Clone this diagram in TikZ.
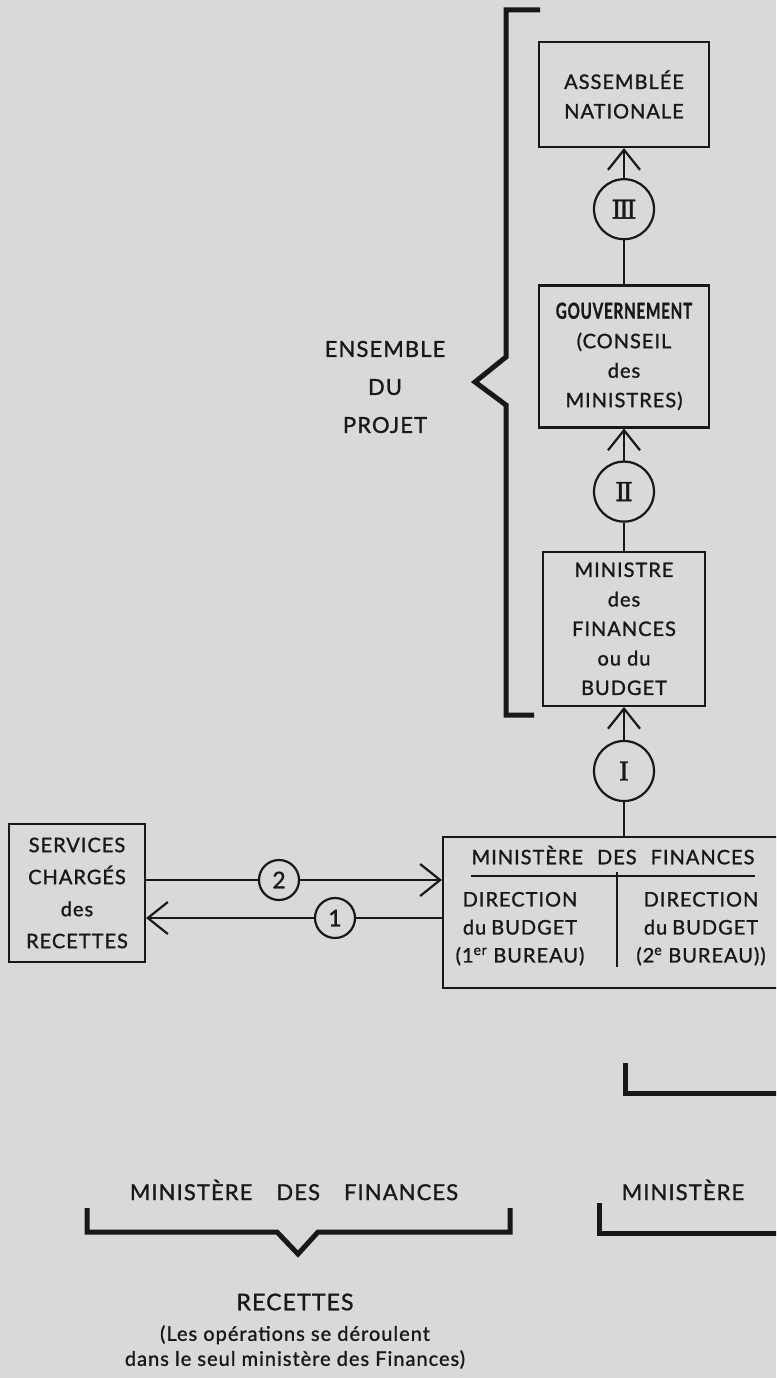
\documentclass[tikz,border=0pt]{standalone}
\usepackage{graphicx}
\usepackage{fontspec}
\setmainfont{Lato}[LetterSpace=5.0, FakeBold=1.2]
\newfontfamily\romfont{DejaVu Serif}[FakeBold=1.5]
\usetikzlibrary{arrows.meta, positioning}
\definecolor{paper}{RGB}{216,218,217}
\definecolor{ink}{RGB}{24,24,24}

\begin{document}
\begin{tikzpicture}[
    x=1pt, y=-1pt,
    every node/.style={text=ink},
    box/.style={
        draw=ink,
        rectangle,
        line width=2.2pt,
        fill=paper,
        align=center,
        inner sep=3pt,
        font=\fontsize{20}{29.5}\selectfont
    },
    stage/.style={
        draw=ink,
        circle,
        line width=2.2pt,
        fill=paper,
        minimum size=60pt,
        inner sep=0pt,
        font=\romfont\fontsize{26}{26}\selectfont
    },
    order/.style={
        draw=ink,
        circle,
        line width=2.2pt,
        fill=paper,
        minimum size=40pt,
        inner sep=0pt,
        font=\fontsize{23}{23}\selectfont
    },
    caption/.style={
        align=center,
        inner sep=0pt,
        font=\fontsize{22}{38}\selectfont
    },
    inbox/.style={
        align=center,
        inner sep=0pt,
        font=\fontsize{20}{28}\selectfont
    },
    flow/.style={
        draw=ink,
        line width=2.2pt,
        -{Straight Barb[length=20pt,width=32pt]}
    },
    link/.style={draw=ink, line width=2.2pt},
    brace/.style={draw=ink, line width=5pt, line join=miter}
]

\useasboundingbox (0,0) rectangle (776,1378);
\clip (0,0) rectangle (776,1378);
\fill[paper] (0,0) rectangle (776,1378);

% Vertical chain
\node[box, minimum width=170pt, minimum height=105pt] (assemblee) at (624,94.5) {ASSEMBLÉE\\NATIONALE};
\node[stage, below=30pt of assemblee] (stageIII) {Ⅲ};
\node[box, minimum width=170pt, minimum height=142pt, below=44pt of stageIII] (gouvernement)
    {\scalebox{0.76}[1.1]{\bfseries GOUVERNEMENT}\\(CONSEIL\\des\\MINISTRES)};
\node[stage, below=32pt of gouvernement] (stageII) {Ⅱ};
\node[box, minimum width=162pt, minimum height=154pt, below=28pt of stageII] (ministre)
    {MINISTRE\\des\\FINANCES\\ou du\\BUDGET};
\node[stage, below=33pt of ministre] (stageI) {Ⅰ};
\node[box, minimum width=362pt, minimum height=151pt, below=34pt of stageI] (finances) {};

% Inside the ministry box
\node[inbox] (finhead) at ([xshift=-11pt, yshift=-19pt]finances.north)
    {MINISTÈRE\hspace{14pt}DES\hspace{14pt}FINANCES};
\node[inbox] (bureauun) at ([xshift=-104pt, yshift=-16pt]finances.center)
    {DIRECTION\\du\hspace{5pt}BUDGET\\(1\textsuperscript{er} BUREAU)};
\node[inbox] (bureaudeux) at ([xshift=77pt, yshift=-16pt]finances.center)
    {DIRECTION\\du\hspace{5pt}BUDGET\\(2\textsuperscript{e} BUREAU))};
\draw[link] ([yshift=-21pt]finhead.west) -- ([yshift=-21pt]finhead.east);
\draw[link] (617,872) -- (617,967);

% Services on the left
\node[box, minimum width=136pt, minimum height=138pt, font=\fontsize{20}{32}\selectfont] (services) at (77,893)
    {SERVICES\\CHARGÉS\\des\\RECETTES};
\node[order] (ordre2) at (279,880) {2};
\node[order] (ordre1) at (335,918) {1};

% Connections
\draw[flow] (stageIII) -- (assemblee);
\draw[link] (gouvernement) -- (stageIII);
\draw[flow] (stageII) -- (gouvernement);
\draw[link] (ministre) -- (stageII);
\draw[flow] (stageI) -- (ministre);
\draw[link] (finances) -- (stageI);
\draw[link] (services.east |- ordre2) -- (ordre2);
\draw[flow] (ordre2) -- (ordre2 -| finances.west);
\draw[flow] (ordre1) -- (ordre1 -| services.east);
\draw[link] (ordre1) -- (ordre1 -| finances.west);

% Brace of the whole project
\draw[brace] (540,10) -- (506,10) -- (506,357) -- (475,382) -- (506,405) -- (506,715) -- (534,715);
\node[caption] (ensemble) at (385,387) {ENSEMBLE\\DU\\PROJET};

% Bottom captions
\draw[brace] (625,1063) -- (625,1093) -- (790,1093);
\node[caption] (minfin) at (294,1190) {MINISTÈRE\hspace{24pt}DES\hspace{24pt}FINANCES};
\node[caption] (minautre) at (683,1190) {MINISTÈRE};
\draw[brace] (87,1208) -- (87,1232) -- (277,1232) -- (298,1254) -- (318,1232) -- (510,1232) -- (510,1208);
\draw[brace] (599,1203) -- (599,1233) -- (790,1233);
\node[caption, font=\fontsize{23}{23}\selectfont] (recettes) at (295,1302) {RECETTES};
\node[caption, font=\fontsize{20}{25}\selectfont] (note) at (295,1347)
    {(Les opérations se déroulent\\dans le seul ministère des Finances)};

\end{tikzpicture}
\end{document}
